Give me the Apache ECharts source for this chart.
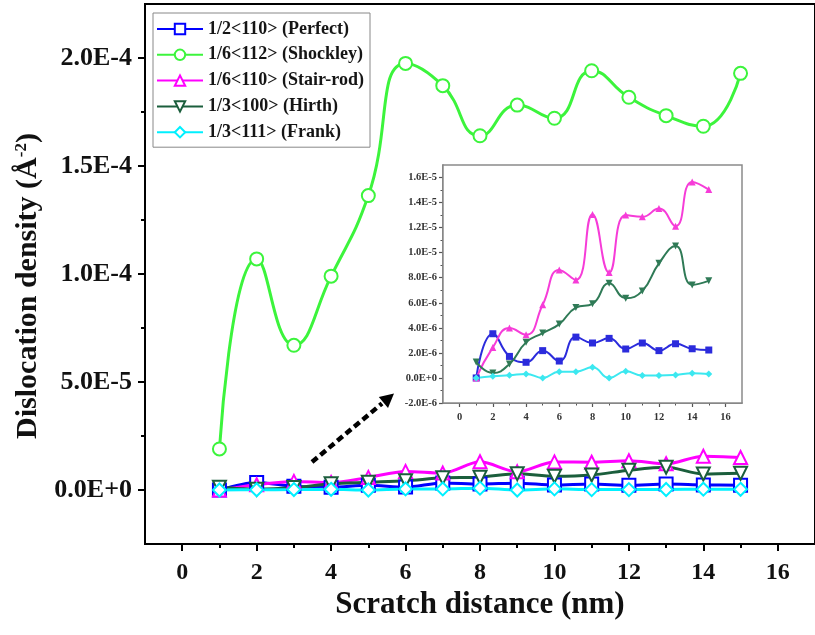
<!DOCTYPE html>
<html>
<head>
<meta charset="utf-8">
<script src="https://cdn.jsdelivr.net/npm/echarts@6/dist/echarts.min.js"></script>
<style>
html,body{margin:0;padding:0;background:#fff;}
#chart{width:815px;height:635px;}
</style>
</head>
<body>
<div id="chart"></div>
<script>
// ---- data ----
const xValues = [1,2,3,4,5,6,7,8,9,10,11,12,13,14,15];
const seriesNames = ['1/2<110> (Perfect)','1/6<112> (Shockley)','1/6<110> (Stair-rod)','1/3<100> (Hirth)','1/3<111> (Frank)'];
const perfect  = [0, 3.53e-6, 1.72e-6, 1.25e-6, 2.18e-6, 1.35e-6, 3.26e-6, 2.79e-6, 3.16e-6, 2.31e-6, 2.79e-6, 2.18e-6, 2.73e-6, 2.33e-6, 2.23e-6];
const shockley = [1.9e-5, 1.07e-4, 6.7e-5, 9.9e-5, 1.363e-4, 1.975e-4, 1.872e-4, 1.64e-4, 1.782e-4, 1.721e-4, 1.941e-4, 1.818e-4, 1.733e-4, 1.684e-4, 1.929e-4];
const stairRod = [0, 2.44e-6, 3.98e-6, 3.45e-6, 5.84e-6, 8.62e-6, 7.82e-6, 1.305e-5, 8.41e-6, 1.30e-5, 1.286e-5, 1.353e-5, 1.212e-5, 1.565e-5, 1.504e-5];
const hirth    = [1.27e-6, 0.40e-6, 1.11e-6, 2.84e-6, 3.58e-6, 4.30e-6, 5.62e-6, 5.92e-6, 7.56e-6, 6.37e-6, 6.95e-6, 9.15e-6, 1.053e-5, 7.43e-6, 7.75e-6];
const frank    = [0, 0.13e-6, 0.21e-6, 0.32e-6, 0, 0.50e-6, 0.50e-6, 0.85e-6, 0, 0.53e-6, 0.19e-6, 0.19e-6, 0.24e-6, 0.37e-6, 0.32e-6];

const mainXTicks  = [0,2,4,6,8,10,12,14,16];
const mainXMinor  = [1,3,5,7,9,11,13,15];
const mainYTicks  = [0, 5e-5, 1e-4, 1.5e-4, 2e-4];
const mainYMinor  = [2.5e-5, 7.5e-5, 1.25e-4, 1.75e-4];
const insetXTicks = [0,2,4,6,8,10,12,14,16];
const insetXMinor = [1,3,5,7,9,11,13,15];
const insetYTicks = [-2e-6, 0, 2e-6, 4e-6, 6e-6, 8e-6, 1e-5, 1.2e-5, 1.4e-5, 1.6e-5];
const insetYMinor = [-1e-6, 1e-6, 3e-6, 5e-6, 7e-6, 9e-6, 1.1e-5, 1.3e-5, 1.5e-5];

// ---- styles ----
const FONT = '"Liberation Serif","Times New Roman",serif';
const mainColors  = ['#0000ff', '#3cf43c', '#ff00ff', '#1b5e3c', '#00f0ff'];
const insetColors = ['#2b2bdc', '#3cf03c', '#f63cd8', '#2f7a56', '#3ce8f0'];
const mainSymbols = ['emptyRect', 'emptyCircle', 'emptyTriangle', 'emptyTriangle', 'emptyDiamond'];
const insetSymbols = ['rect', 'circle', 'triangle', 'triangle', 'diamond'];
const rotations = [0, 0, 0, 180, 0];
const allData = [perfect, shockley, stairRod, hirth, frank];

const fmt = v => v.toExponential(1).toUpperCase();
const pairs = arr => xValues.map((x, i) => [x, arr[i]]);

const series = [];
allData.forEach((arr, k) => {
  series.push({
    name: seriesNames[k], type: 'line', xAxisIndex: 0, yAxisIndex: 0,
    data: pairs(arr), smooth: k === 1 ? 0.5 : 0.3,
    symbol: mainSymbols[k], symbolRotate: rotations[k], symbolSize: 13,
    lineStyle: {color: mainColors[k], width: 3},
    itemStyle: {color: mainColors[k], borderWidth: 2.5},
    z: k === 1 ? 3 : 4, animation: false
  });
});
[0, 2, 3, 4].forEach(k => {
  series.push({
    name: 'inset ' + seriesNames[k], type: 'line', xAxisIndex: 2, yAxisIndex: 2,
    data: pairs(allData[k]), smooth: 0.5,
    symbol: insetSymbols[k], symbolRotate: rotations[k], symbolSize: 7,
    lineStyle: {color: insetColors[k], width: 2},
    itemStyle: {color: insetColors[k]},
    z: 5, animation: false
  });
});

const chart = echarts.init(document.getElementById('chart'), null, {renderer: 'canvas'});
chart.setOption({
  backgroundColor: '#fff',
  animation: false,
  legend: {
    data: seriesNames, orient: 'vertical', left: 153, top: 13,
    itemWidth: 46, itemHeight: 13, itemGap: 7.8,
    padding: [7, 6, 6, 3],
    borderColor: '#888', borderWidth: 1, backgroundColor: '#fff',
    textStyle: {fontFamily: FONT, fontWeight: 'bold', fontSize: 18, color: '#151515'},
    selectedMode: false
  },
  grid: [
    {left: 145, top: 4, width: 672, height: 540, show: true, borderColor: '#000', borderWidth: 2, backgroundColor: 'transparent'},
    {left: 443, top: 165, width: 299, height: 238, show: true, borderColor: '#8a8a8a', borderWidth: 1.5, backgroundColor: '#fff', z: 4}
  ],
  xAxis: [
    {type: 'value', gridIndex: 0, position: 'bottom', min: -1, max: 17,
     name: 'Scratch distance (nm)', nameLocation: 'middle', nameGap: 45,
     nameTextStyle: {fontFamily: FONT, fontWeight: 'bold', fontSize: 31, color: '#111'},
     axisLine: {show: true, onZero: false, lineStyle: {color: '#000', width: 2}},
     axisTick: {show: true, inside: false, length: 7, lineStyle: {width: 2, color: '#000'}, customValues: mainXTicks},
     axisLabel: {customValues: mainXTicks, margin: 17, fontFamily: FONT, fontWeight: 'bold', fontSize: 24, color: '#111'},
     splitLine: {show: false}},
    {type: 'value', gridIndex: 0, position: 'bottom', min: -1, max: 17,
     axisLine: {show: false, onZero: false},
     axisTick: {show: true, length: 4, lineStyle: {width: 2, color: '#000'}, customValues: mainXMinor},
     axisLabel: {show: false}, splitLine: {show: false}},
    {type: 'value', gridIndex: 1, position: 'bottom', min: -1, max: 17,
     axisLine: {show: true, onZero: false, lineStyle: {color: '#555', width: 1.5}},
     axisTick: {show: true, length: 4, lineStyle: {width: 1.2, color: '#555'}, customValues: insetXTicks},
     axisLabel: {customValues: insetXTicks, margin: 9, fontFamily: FONT, fontWeight: 'bold', fontSize: 10.5, color: '#333'},
     splitLine: {show: false}},
    {type: 'value', gridIndex: 1, position: 'bottom', min: -1, max: 17,
     axisLine: {show: false, onZero: false},
     axisTick: {show: true, length: 2.5, lineStyle: {width: 1, color: '#555'}, customValues: insetXMinor},
     axisLabel: {show: false}, splitLine: {show: false}}
  ],
  yAxis: [
    {type: 'value', gridIndex: 0, position: 'left', min: -2.5e-5, max: 2.25e-4,
     name: 'Dislocation density (Å{sup|-2})', nameLocation: 'middle', nameGap: 74, nameRotate: 90,
     nameTextStyle: {fontFamily: FONT, fontWeight: 'bold', fontSize: 30, color: '#111', padding: [0, 24, 0, 0],
       rich: {sup: {fontFamily: FONT, fontWeight: 'bold', fontSize: 17, color: '#111', verticalAlign: 'top', padding: [0, 0, 14, 0]}}},
     axisLine: {show: true, onZero: false, lineStyle: {color: '#000', width: 2}},
     axisTick: {show: true, length: 7, lineStyle: {width: 2, color: '#000'}, customValues: mainYTicks},
     axisLabel: {customValues: mainYTicks, formatter: fmt, margin: 13, fontFamily: FONT, fontWeight: 'bold', fontSize: 26, color: '#111'},
     splitLine: {show: false}},
    {type: 'value', gridIndex: 0, position: 'left', min: -2.5e-5, max: 2.25e-4,
     axisLine: {show: false, onZero: false},
     axisTick: {show: true, length: 4, lineStyle: {width: 2, color: '#000'}, customValues: mainYMinor},
     axisLabel: {show: false}, splitLine: {show: false}},
    {type: 'value', gridIndex: 1, position: 'left', min: -2e-6, max: 1.7e-5,
     axisLine: {show: true, onZero: false, lineStyle: {color: '#555', width: 1.5}},
     axisTick: {show: true, length: 4, lineStyle: {width: 1.2, color: '#555'}, customValues: insetYTicks},
     axisLabel: {customValues: insetYTicks, formatter: fmt, margin: 6, fontFamily: FONT, fontWeight: 'bold', fontSize: 10.5, color: '#333'},
     splitLine: {show: false}},
    {type: 'value', gridIndex: 1, position: 'left', min: -2e-6, max: 1.7e-5,
     axisLine: {show: false, onZero: false},
     axisTick: {show: true, length: 2.5, lineStyle: {width: 1, color: '#555'}, customValues: insetYMinor},
     axisLabel: {show: false}, splitLine: {show: false}}
  ],
  graphic: [
    {type: 'line', shape: {x1: 312, y1: 462, x2: 382, y2: 403.5},
     style: {stroke: '#000', lineWidth: 4.5, lineDash: [7, 4]}, z: 10},
    {type: 'polygon', shape: {points: [[394, 393.5], [388, 408], [378.8, 397]]},
     style: {fill: '#000'}, z: 10}
  ],
  series: series
});
</script>
</body>
</html>
